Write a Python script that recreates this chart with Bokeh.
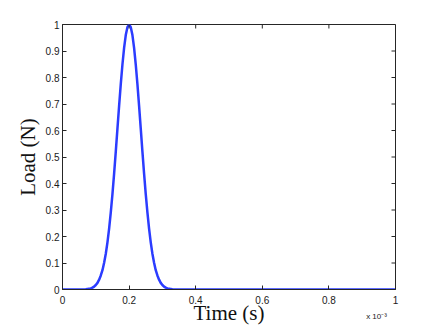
from bokeh.plotting import figure
from bokeh.models import Range1d, FixedTicker, NumeralTickFormatter, LinearAxis
from bokeh.embed import file_html
from bokeh.resources import INLINE

# time in units of 1e-3 s
time_ms = [0.00, 0.07, 0.08, 0.085, 0.09, 0.095, 0.10, 0.105, 0.11, 0.115, 0.12,
           0.125, 0.13, 0.135, 0.14, 0.145, 0.15, 0.155, 0.16, 0.165, 0.17, 0.175,
           0.18, 0.185, 0.19, 0.195, 0.20, 0.205, 0.21, 0.215, 0.22, 0.225, 0.23,
           0.235, 0.24, 0.245, 0.25, 0.255, 0.26, 0.265, 0.27, 0.275, 0.28, 0.285,
           0.29, 0.295, 0.30, 0.305, 0.31, 0.315, 0.32, 0.33, 1.00]
load_n = [0.000, 0.001, 0.003, 0.004, 0.007, 0.011, 0.017, 0.025, 0.037, 0.053, 0.073,
          0.101, 0.135, 0.178, 0.230, 0.291, 0.360, 0.437, 0.520, 0.607, 0.693, 0.775,
          0.849, 0.912, 0.960, 0.990, 1.000, 0.990, 0.960, 0.912, 0.849, 0.775, 0.693,
          0.607, 0.520, 0.437, 0.360, 0.291, 0.230, 0.178, 0.135, 0.101, 0.073, 0.053,
          0.037, 0.025, 0.017, 0.011, 0.007, 0.004, 0.003, 0.001, 0.000]

x_ticks = [0, 0.2, 0.4, 0.6, 0.8, 1.0]
y_ticks = [0, 0.1, 0.2, 0.3, 0.4, 0.5, 0.6, 0.7, 0.8, 0.9, 1.0]
x_title = "Time (s)"
y_title = "Load (N)"
x_mult = "x 10\u207b\u00b3"
x_mult_at = 0.943

AX = "#262626"
FRAME_W, FRAME_H = 333, 265
TICK = 4

p = figure(width=436, height=327, output_backend="svg", toolbar_location=None,
           x_range=Range1d(0, 1), y_range=Range1d(0, 1),
           min_border_left=62, min_border_right=41, min_border_top=24,
           min_border_bottom=38)
p.outline_line_color = AX
p.outline_line_width = 1
p.grid.visible = False
p.background_fill_color = "white"
p.border_fill_color = "white"

p.line(time_ms, load_n, line_color="#2b3cff", line_width=2.5, line_join="round")

# inward ticks on the top and right edges (MATLAB box)
p.segment(x0=x_ticks, y0=[1] * len(x_ticks), x1=x_ticks,
          y1=[1 - TICK / FRAME_H] * len(x_ticks), line_color=AX, line_width=1)
p.segment(x0=[1] * len(y_ticks), y0=y_ticks, x1=[1 - TICK / FRAME_W] * len(y_ticks),
          y1=y_ticks, line_color=AX, line_width=1)


def style(ax, ticks):
    ax.ticker = FixedTicker(ticks=ticks)
    ax.formatter = NumeralTickFormatter(format="0.[0]")
    ax.axis_line_color = AX
    ax.axis_line_width = 1
    ax.major_tick_line_color = AX
    ax.major_tick_in = TICK
    ax.major_tick_out = 0
    ax.minor_tick_line_color = None
    ax.major_label_text_font = "Liberation Sans"
    ax.major_label_text_font_size = "10px"
    ax.major_label_text_color = "#1a1a1a"


xa = p.xaxis[0]
ya = p.yaxis[0]
style(xa, x_ticks)
style(ya, y_ticks)
xa.major_label_standoff = 6
ya.major_label_standoff = 3

ya.axis_label = y_title
ya.axis_label_text_font = "Liberation Serif"
ya.axis_label_text_font_size = "21px"
ya.axis_label_text_font_style = "normal"
ya.axis_label_text_color = "#111111"
ya.axis_label_standoff = 3

# second bottom axis: carries the exponent note and the x title
xb = LinearAxis(ticker=FixedTicker(ticks=[x_mult_at]),
                major_label_overrides={x_mult_at: x_mult})
xb.axis_line_color = None
xb.major_tick_line_color = None
xb.minor_tick_line_color = None
xb.major_tick_in = 0
xb.major_tick_out = 0
xb.major_label_standoff = 5
xb.major_label_text_font = "Liberation Sans"
xb.major_label_text_font_size = "8px"
xb.major_label_text_color = "#1a1a1a"
xb.axis_label = x_title
xb.axis_label_text_font = "Liberation Serif"
xb.axis_label_text_font_size = "21px"
xb.axis_label_text_font_style = "normal"
xb.axis_label_text_color = "#111111"
xb.axis_label_standoff = -23
p.add_layout(xb, "below")

open("out.html", "w").write(file_html(p, INLINE))
